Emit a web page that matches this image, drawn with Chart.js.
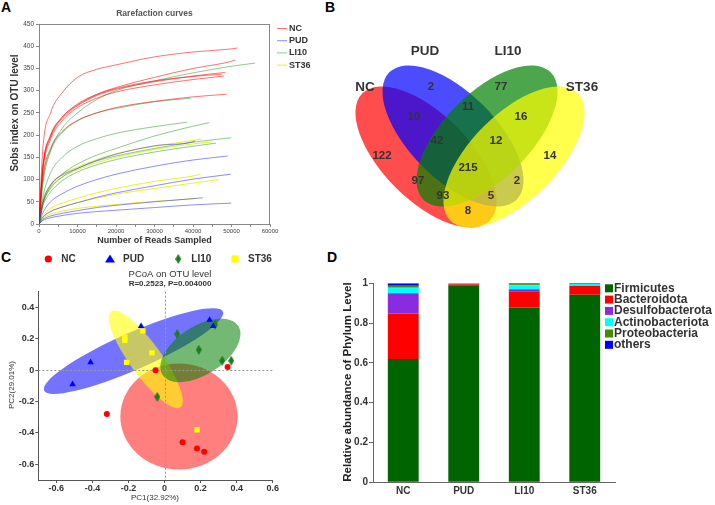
<!DOCTYPE html>
<html>
<head>
<meta charset="utf-8">
<script src="https://cdn.jsdelivr.net/npm/chart.js@4.4.1/dist/chart.umd.min.js"></script>
<style>
  body { margin: 0; width: 715px; height: 505px; background: #fff; position: relative; overflow: hidden; }
  canvas { position: absolute; }
  .tag { position: absolute; font: bold 14px "Liberation Sans", Arial, sans-serif; line-height: 14px; color: #000; }
</style>
</head>
<body>
<div class="tag" style="left:1px;top:0px">A</div>
<div class="tag" style="left:325px;top:0px">B</div>
<div class="tag" style="left:1px;top:250px">C</div>
<div class="tag" style="left:327px;top:250px">D</div>
<canvas id="rare" width="320" height="250" style="left:0;top:0"></canvas>
<canvas id="venn" width="395" height="250" style="left:320px;top:0"></canvas>
<canvas id="pcoa" width="320" height="255" style="left:0;top:250px"></canvas>
<canvas id="phylum" width="395" height="255" style="left:320px;top:250px"></canvas>
<script>
// ---- A: rarefaction curves ----
const rareSteps = [0, 1000, 3000, 6000, 10000, 15000, 20000, 30000, 40000, 50000];
const rareXTicks = [0, 5000, 10000, 15000, 20000, 25000, 30000, 35000, 40000, 45000, 50000, 55000, 60000];
const rareGroups = ["NC", "PUD", "LI10", "ST36"];

const ncEnds = [51500, 51000, 48300, 48000, 48700, 47500];
const ncCurves = [
    [0, 170, 250, 295, 330, 348, 358, 376, 387, 394, 396],
    [0, 130, 200, 240, 270, 292, 307, 330, 350, 366, 369],
    [0, 125, 195, 237, 266, 289, 303, 320, 333, 341],
    [0, 120, 190, 232, 262, 283, 297, 313, 325, 333],
    [0, 105, 170, 208, 233, 250, 262, 276, 286, 292],
    [0, 128, 198, 240, 268, 291, 305, 322, 332, 337]
];
const pudEnds = [40500, 49000, 49800, 42500, 49900];
const pudCurves = [
    [0, 50, 88, 110, 125, 143, 157, 176, 185, 187],
    [0, 25, 50, 68, 85, 100, 112, 130, 144, 153],
    [0, 15, 28, 38, 48, 60, 70, 86, 101, 112],
    [0, 10, 18, 24, 30, 37, 42, 50, 57, 59],
    [0, 8, 14, 19, 24, 28, 31, 37, 43, 47]
];
const li10Ends = [56100, 39400, 38500, 44200, 49900, 46000];
const li10Curves = [
    [0, 90, 165, 215, 250, 280, 300, 322, 340, 355, 362],
    [0, 100, 165, 205, 232, 250, 260, 275, 283],
    [0, 60, 115, 150, 175, 192, 204, 219, 229],
    [0, 45, 85, 112, 135, 155, 170, 198, 220, 228],
    [0, 45, 80, 105, 125, 142, 153, 170, 184, 194],
    [0, 40, 72, 97, 117, 133, 145, 162, 175, 182]
];
const st36Ends = [42200, 45000, 41800, 46700, 40900];
const st36Curves = [
    [0, 50, 88, 112, 128, 145, 158, 175, 188, 191],
    [0, 45, 82, 106, 122, 138, 150, 168, 180, 185],
    [0, 18, 35, 47, 58, 70, 80, 96, 108, 112],
    [0, 15, 28, 38, 48, 58, 67, 80, 92, 100],
    [0, 12, 22, 29, 35, 40, 44, 51, 57, 58]
];

// ---- B: venn ----
const vennSets = ["NC", "PUD", "LI10", "ST36"];
const vennCounts = [122, 2, 77, 14, 10, 11, 16, 42, 12, 215, 97, 2, 93, 5, 8];

// ---- C: PCoA ----
const pcoaGroups = ["NC", "PUD", "LI10", "ST36"];
const ncPC1 = [-0.05, 0.35, -0.32, 0.10, 0.18, 0.22];
const ncPC2 = [0.00, 0.02, -0.28, -0.46, -0.50, -0.52];
const pudPC1 = [-0.51, -0.41, -0.13, 0.25, 0.27];
const pudPC2 = [-0.09, 0.05, 0.28, 0.32, 0.28];
const li10PC1 = [0.07, 0.19, 0.28, 0.32, 0.37, -0.04];
const li10PC2 = [0.23, 0.13, 0.29, 0.06, 0.06, -0.17];
const st36PC1 = [-0.22, -0.22, -0.12, -0.21, -0.07, 0.18];
const st36PC2 = [0.21, 0.19, 0.25, 0.05, 0.11, -0.38];
const pcoaXTicks = [-0.6, -0.4, -0.2, 0, 0.2, 0.4, 0.6];
const pcoaYTicks = [-0.6, -0.4, -0.2, 0, 0.2, 0.4];

// ---- D: phylum composition ----
const phylumGroups = ["NC", "PUD", "LI10", "ST36"];
const phylumNames = ["Firmicutes", "Bacteroidota", "Desulfobacterota", "Actinobacteriota", "Proteobacteria", "others"];
const firmicutes = [0.620, 0.990, 0.878, 0.943];
const bacteroidota = [0.228, 0.005, 0.082, 0.045];
const desulfobacterota = [0.102, 0.000, 0.010, 0.000];
const actinobacteriota = [0.028, 0.003, 0.020, 0.009];
const proteobacteria = [0.010, 0.000, 0.005, 0.000];
const others = [0.012, 0.002, 0.005, 0.003];
const phylumTicks = [0, 0.2, 0.4, 0.6, 0.8, 1];

Chart.defaults.font.family = '"Liberation Sans", Arial, sans-serif';
Chart.defaults.animation = false;
Chart.defaults.responsive = false;
Chart.defaults.devicePixelRatio = 1;
Chart.defaults.plugins.legend.display = false;
Chart.defaults.plugins.tooltip.enabled = false;

function setTicks(list) {
    return scale => { scale.ticks = list.map(v => ({ value: v })); };
}

function drawText(ctx, str, x, y, font, color, align, rot) {
    ctx.save();
    ctx.translate(x, y);
    if (rot) ctx.rotate(rot);
    ctx.font = font;
    ctx.fillStyle = color;
    ctx.textAlign = align || "center";
    ctx.textBaseline = "middle";
    ctx.fillText(str, 0, 0);
    ctx.restore();
}

// ellipse given by centre and two half-axis vectors, all in data units
function fillEllipse(chart, cx, cy, ux, uy, vx, vy, color) {
    const xs = chart.scales.x, ys = chart.scales.y, ctx = chart.ctx;
    const px = xs.getPixelForValue(cx), py = ys.getPixelForValue(cy);
    const ax = xs.getPixelForValue(cx + ux) - px, ay = ys.getPixelForValue(cy + uy) - py;
    const bx = xs.getPixelForValue(cx + vx) - px, by = ys.getPixelForValue(cy + vy) - py;
    ctx.save();
    ctx.beginPath();
    ctx.transform(ax, ay, bx, by, px, py);
    ctx.arc(0, 0, 1, 0, Math.PI * 2);
    ctx.restore();
    ctx.save();
    ctx.fillStyle = color;
    ctx.fill();
    ctx.restore();
}

// ================= A =================
const rareColors = ["rgba(255,0,0,0.55)", "rgba(30,30,255,0.5)", "rgba(0,140,0,0.45)", "rgba(235,235,0,0.85)"];

function curvePoints(end, ys) {
    const xs = rareSteps.filter(s => s < end).concat(end);
    return ys.map((y, i) => ({ x: xs[i], y }));
}

const rareSets = [];
[[ncEnds, ncCurves], [pudEnds, pudCurves], [li10Ends, li10Curves], [st36Ends, st36Curves]].forEach(([ends, curves], g) => {
    curves.forEach((ys, i) => {
        rareSets.push({
            label: rareGroups[g],
            data: curvePoints(ends[i], ys),
            showLine: true,
            borderColor: rareColors[g],
            borderWidth: 1,
            pointRadius: 0,
            cubicInterpolationMode: "monotone"
        });
    });
});

new Chart(document.getElementById("rare"), {
    type: "scatter",
    data: { datasets: rareSets },
    options: {
        layout: { padding: { top: 24, right: 50, left: 0, bottom: 0 } },
        scales: {
            x: {
                type: "linear", min: 0, max: 60000,
                afterBuildTicks: setTicks(rareXTicks),
                afterFit: s => { s.height = 26; },
                grid: { drawOnChartArea: false, tickLength: 3, color: "#888" },
                border: { color: "#888" },
                ticks: {
                    autoSkip: false, maxRotation: 0, padding: 1, color: "#444", font: { size: 6 },
                    callback: v => (v % 10000 === 0 ? String(v) : "")
                }
            },
            y: {
                min: 0, max: 450,
                ticks: { stepSize: 50, padding: 2, color: "#444", font: { size: 6.5 } },
                afterFit: s => { s.width = 39; },
                grid: { drawOnChartArea: false, tickLength: 3, color: "#888" },
                border: { color: "#888" }
            }
        }
    },
    plugins: [{
        id: "rareDeco",
        beforeDatasetsDraw(chart) {
            const a = chart.chartArea, ctx = chart.ctx;
            ctx.save();
            ctx.strokeStyle = "#888";
            ctx.lineWidth = 1;
            ctx.strokeRect(a.left + 0.5, a.top + 0.5, a.width - 1, a.height);
            ctx.restore();
        },
        afterDraw(chart) {
            const a = chart.chartArea, ctx = chart.ctx;
            const mid = (a.left + a.right) / 2;
            drawText(ctx, "Rarefaction curves", mid, 14, "bold 8.5px 'Liberation Sans'", "#555");
            drawText(ctx, "Number of Reads Sampled", mid, 241, "bold 9px 'Liberation Sans'", "#333");
            drawText(ctx, "Sobs index on OTU level", 15, 113, "bold 10px 'Liberation Sans'", "#333", "center", -Math.PI / 2);
            rareGroups.forEach((g, i) => {
                const y = 28.5 + i * 12.2;
                ctx.save();
                ctx.strokeStyle = rareColors[i];
                ctx.lineWidth = 1;
                ctx.beginPath();
                ctx.moveTo(a.right + 7, y);
                ctx.lineTo(a.right + 17, y);
                ctx.stroke();
                ctx.restore();
                drawText(ctx, g, a.right + 19, y, "bold 9px 'Liberation Sans'", "#333", "left");
            });
        }
    }]
});

// ================= B =================
const vennLayout = {
    cx: [-44, -17, 17, 44], cy: [157, 136, 136, 157], angle: [45, 45, -45, -45],
    a: 90, b: 43,
    colors: ["rgba(255,0,0,0.7)", "rgba(0,0,255,0.7)", "rgba(0,128,0,0.7)", "rgba(255,255,0,0.7)"],
    labelX: [-105, -45, 38, 112], labelY: [87, 51, 51, 87],
    countX: [-88, -39, 31, 80, -56, -2, 51, -33, 26, -2, -52, 47, -27, 21, -2],
    countY: [156, 87, 87, 156, 117, 107, 117, 141, 141, 168, 181, 181, 196, 196, 211]
};

new Chart(document.getElementById("venn"), {
    type: "scatter",
    data: {
        datasets: [
            { label: "counts", data: vennCounts.map((c, i) => ({ x: vennLayout.countX[i], y: vennLayout.countY[i] })), pointRadius: 0 },
            { label: "sets", data: vennSets.map((s, i) => ({ x: vennLayout.labelX[i], y: vennLayout.labelY[i] })), pointRadius: 0 }
        ]
    },
    options: {
        layout: { padding: 0 },
        scales: {
            x: { display: false, min: -150, max: 245 },
            y: { display: false, min: 0, max: 250, reverse: true }
        }
    },
    plugins: [{
        id: "vennShapes",
        beforeDatasetsDraw(chart) {
            const L = vennLayout;
            for (let i = 0; i < 4; i++) {
                const t = L.angle[i] * Math.PI / 180;
                fillEllipse(chart, L.cx[i], L.cy[i],
                    L.a * Math.cos(t), L.a * Math.sin(t),
                    -L.b * Math.sin(t), L.b * Math.cos(t), L.colors[i]);
            }
        },
        afterDatasetsDraw(chart) {
            const ctx = chart.ctx;
            chart.getDatasetMeta(0).data.forEach((pt, i) => {
                drawText(ctx, String(vennCounts[i]), pt.x, pt.y, "bold 11.5px 'Liberation Sans'", "#333");
            });
            chart.getDatasetMeta(1).data.forEach((pt, i) => {
                drawText(ctx, vennSets[i], pt.x, pt.y, "bold 13.5px 'Liberation Sans'", "#333");
            });
        }
    }]
});

// ================= C =================
function diamondImage(color) {
    const c = document.createElement("canvas");
    c.width = 6; c.height = 10;
    const g = c.getContext("2d");
    g.fillStyle = color;
    g.beginPath();
    g.moveTo(3, 0); g.lineTo(6, 5); g.lineTo(3, 10); g.lineTo(0, 5);
    g.closePath();
    g.fill();
    return c;
}
const li10Diamond = diamondImage("#1e7d1e");
const pcoaColors = ["#ff0000", "#0000ff", "#1e7d1e", "#ffff00"];
const pcoaStyles = ["circle", "triangle", li10Diamond, "rect"];
const pcoaRadius = [3, 3.8, 4, 3.8];

const pcoaEllipses = {
    // NC, PUD, LI10, ST36 : centre, major half-axis, minor half-axis (data units)
    cx: [0.080, -0.172, 0.199, -0.104],
    cy: [-0.295, 0.122, 0.126, 0.069],
    ux: [0.325, 0.496, 0.211, 0.193], uy: [0, 0.251, 0.154, -0.305],
    vx: [0, 0.040, 0.070, 0.071], vy: [-0.338, -0.108, -0.132, 0.061],
    colors: ["rgba(255,0,0,0.5)", "rgba(0,0,255,0.55)", "rgba(0,128,0,0.55)", "rgba(255,255,0,0.6)"],
    order: [0, 1, 3, 2]
};

const pcoaSets = [[ncPC1, ncPC2], [pudPC1, pudPC2], [li10PC1, li10PC2], [st36PC1, st36PC2]].map(([xs, ys], g) => ({
    label: pcoaGroups[g],
    data: xs.map((x, i) => ({ x, y: ys[i] })),
    pointStyle: pcoaStyles[g],
    pointRadius: pcoaRadius[g],
    backgroundColor: pcoaColors[g],
    borderColor: pcoaColors[g],
    borderWidth: 0
}));

const fmtTick = v => (Math.abs(v) < 1e-9 ? "0" : Number(v).toFixed(1).replace(/\.0$/, ""));

new Chart(document.getElementById("pcoa"), {
    type: "scatter",
    data: { datasets: pcoaSets },
    options: {
        layout: { padding: { top: 41.7, right: 47.3, left: 0, bottom: 0 } },
        scales: {
            x: {
                min: -0.7, max: 0.6,
                afterBuildTicks: setTicks(pcoaXTicks),
                afterFit: s => { s.height = 25; },
                grid: { drawOnChartArea: false, tickLength: 3, color: "#555" },
                border: { color: "#555" },
                ticks: { autoSkip: false, maxRotation: 0, padding: 0, color: "#333", font: { size: 9, weight: "bold" }, callback: fmtTick }
            },
            y: {
                min: -0.7, max: 0.5,
                afterBuildTicks: setTicks(pcoaYTicks),
                afterFit: s => { s.width = 38.3; },
                grid: { drawOnChartArea: false, tickLength: 3, color: "#555" },
                border: { color: "#555" },
                ticks: { autoSkip: false, padding: 1, color: "#333", font: { size: 9, weight: "bold" }, callback: fmtTick }
            }
        }
    },
    plugins: [{
        id: "pcoaDeco",
        beforeDatasetsDraw(chart) {
            const E = pcoaEllipses, ctx = chart.ctx, a = chart.chartArea;
            E.order.forEach(i => fillEllipse(chart, E.cx[i], E.cy[i], E.ux[i], E.uy[i], E.vx[i], E.vy[i], E.colors[i]));
            const x0 = chart.scales.x.getPixelForValue(0), y0 = chart.scales.y.getPixelForValue(0);
            ctx.save();
            ctx.strokeStyle = "#999";
            ctx.lineWidth = 1;
            ctx.setLineDash([2, 2]);
            ctx.beginPath();
            ctx.moveTo(a.left, Math.round(y0) + 0.5); ctx.lineTo(a.right, Math.round(y0) + 0.5);
            ctx.moveTo(Math.round(x0) + 0.5, a.top); ctx.lineTo(Math.round(x0) + 0.5, a.bottom);
            ctx.stroke();
            ctx.restore();
        },
        afterDraw(chart) {
            const ctx = chart.ctx;
            drawText(ctx, "PCoA on OTU level", 170, 24, "9.5px 'Liberation Sans'", "#333");
            drawText(ctx, "R=0.2523, P=0.004000", 170, 33.5, "bold 8px 'Liberation Sans'", "#333");
            drawText(ctx, "PC1(32.92%)", 155, 248, "8px 'Liberation Sans'", "#333");
            drawText(ctx, "PC2(29.01%)", 12, 135, "8px 'Liberation Sans'", "#333", "center", -Math.PI / 2);
            // legend row
            const mx = [48.3, 110, 178.3, 235], y = 9;
            pcoaGroups.forEach((g, i) => {
                ctx.save();
                ctx.fillStyle = pcoaColors[i];
                ctx.beginPath();
                if (i === 0) ctx.arc(mx[i], y, 3.6, 0, Math.PI * 2);
                if (i === 1) { ctx.moveTo(mx[i], y - 4.5); ctx.lineTo(mx[i] + 5, y + 3.5); ctx.lineTo(mx[i] - 5, y + 3.5); ctx.closePath(); }
                if (i === 3) ctx.rect(mx[i] - 3.6, y - 3.6, 7.2, 7.2);
                ctx.fill();
                if (i === 2) ctx.drawImage(li10Diamond, mx[i] - 3, y - 5);
                ctx.restore();
                drawText(ctx, g, mx[i] + 13, y, "bold 10px 'Liberation Sans'", "#333", "left");
            });
        }
    }]
});

// ================= D =================
const phylumColors = ["#006400", "#ff0000", "#8a2be2", "#00ffff", "#458b00", "#0000ff"];
const phylumValues = [firmicutes, bacteroidota, desulfobacterota, actinobacteriota, proteobacteria, others];

new Chart(document.getElementById("phylum"), {
    type: "bar",
    data: {
        labels: phylumGroups,
        datasets: phylumNames.map((n, i) => ({
            label: n,
            data: phylumValues[i],
            backgroundColor: phylumColors[i],
            borderWidth: 0,
            barPercentage: 0.51,
            categoryPercentage: 1
        }))
    },
    options: {
        layout: { padding: { top: 33.3, right: 100, left: 0, bottom: 0 } },
        scales: {
            x: {
                stacked: true,
                afterFit: s => { s.height = 22.7; },
                grid: { drawOnChartArea: false, drawTicks: false },
                border: { color: "#666" },
                ticks: { padding: 3, color: "#333", font: { size: 10, weight: "bold" } }
            },
            y: {
                stacked: true, min: 0, max: 1,
                afterBuildTicks: setTicks(phylumTicks),
                afterFit: s => { s.width = 53; },
                grid: { drawOnChartArea: false, tickLength: 4, color: "#666" },
                border: { color: "#666" },
                ticks: { padding: 1, color: "#333", font: { size: 10, weight: "bold" }, callback: fmtTick }
            }
        }
    },
    plugins: [{
        id: "phylumDeco",
        afterDraw(chart) {
            const ctx = chart.ctx, a = chart.chartArea;
            drawText(ctx, "Relative abundance of Phylum Level", 27.5, 132, "bold 11.5px 'Liberation Sans'", "#222", "center", -Math.PI / 2);
            phylumNames.forEach((n, i) => {
                const y = 38.3 + i * 11.3;
                ctx.save();
                ctx.fillStyle = phylumColors[i];
                ctx.fillRect(a.right - 10, y - 4, 8, 8);
                ctx.restore();
                drawText(ctx, n, a.right - 1, y, "bold 12px 'Liberation Sans'", "#333", "left");
            });
        }
    }]
});
</script>
</body>
</html>
